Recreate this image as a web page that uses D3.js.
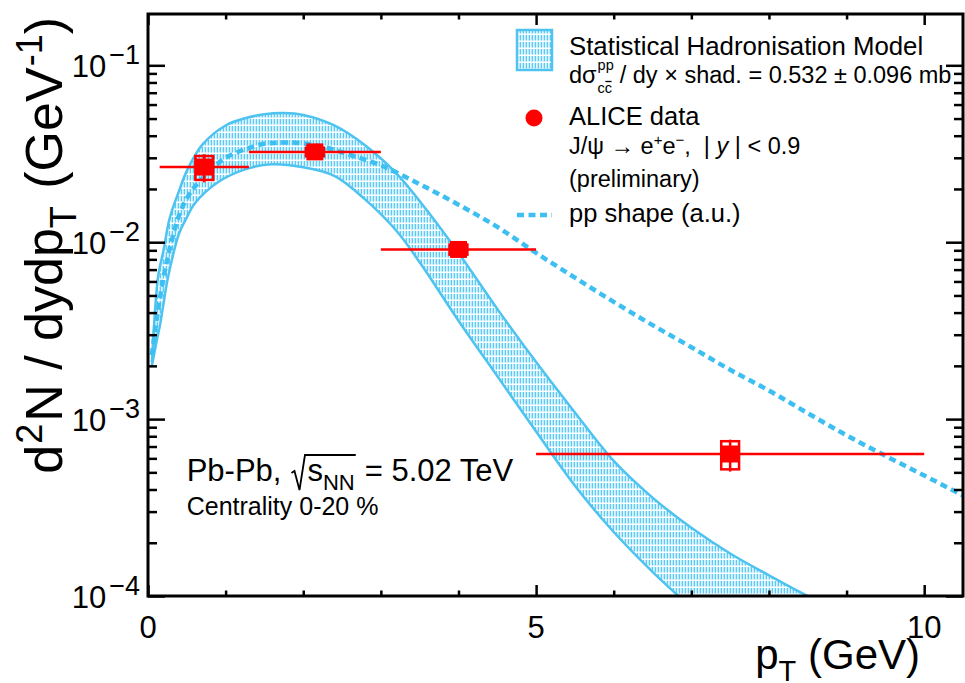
<!DOCTYPE html>
<html>
<head>
<meta charset="utf-8">
<script src="https://cdn.jsdelivr.net/npm/d3@7"></script>
<style>
  body { margin: 0; background: #fff; }
  svg { display: block; font-family: "Liberation Sans", Arial, Helvetica, sans-serif; }
</style>
</head>
<body>
<svg id="chart" width="965" height="683"></svg>
<script>
// ---- Statistical Hadronisation Model band (upper / lower edge) ----
const shmUpperPt  = [0.05, 0.08, 0.13, 0.2, 0.28, 0.4, 0.5, 0.7, 1.0, 1.25, 1.5, 1.75, 2.0, 2.4, 2.8, 3.2, 3.6, 4.0, 4.5, 5.0, 5.5, 6.0, 6.5, 7.0, 7.5, 8.0, 8.5, 8.8];
const shmUpperVal = [0.0021, 0.0035, 0.0064, 0.0090, 0.0137, 0.0195, 0.0253, 0.0356, 0.0457, 0.0502, 0.0529, 0.0537, 0.0524, 0.0457, 0.0352, 0.0245, 0.0150, 0.0087, 0.0042, 0.0021, 0.00109, 0.00058, 0.00036, 0.000243, 0.000174, 0.000131, 0.000100, 0.000087];
const shmLowerPt  = [0.05, 0.1, 0.16, 0.2, 0.26, 0.4, 0.5, 0.6, 0.9, 1.25, 1.6, 2.0, 2.4, 2.8, 3.2, 3.5, 4.0, 4.5, 5.0, 5.5, 6.0, 6.5, 7.0];
const shmLowerVal = [0.0020, 0.0026, 0.0035, 0.0045, 0.0064, 0.0112, 0.0138, 0.0165, 0.0218, 0.0258, 0.0276, 0.0265, 0.0237, 0.0174, 0.0116, 0.0077, 0.0036, 0.00175, 0.00085, 0.00042, 0.00023, 0.000137, 0.000086];

// ---- pp reference shape (arbitrary units) ----
const ppPt  = [0.05, 0.1, 0.2, 0.3, 0.4, 0.5, 0.6, 0.8, 1.0, 1.25, 1.5, 1.75, 2.0, 2.3, 2.6, 3.0, 3.5, 4.0, 4.5, 5.0, 5.5, 6.0, 6.5, 7.0, 7.5, 8.0, 8.5, 9.0, 9.5, 10.0, 10.5];
const ppVal = [0.0023, 0.0034, 0.0063, 0.0100, 0.0142, 0.0177, 0.0205, 0.0255, 0.0300, 0.0335, 0.0360, 0.0366, 0.0362, 0.0342, 0.0312, 0.0272, 0.0213, 0.0163, 0.0122, 0.0087, 0.0063, 0.0046, 0.0034, 0.00255, 0.0019, 0.00145, 0.00108, 0.00081, 0.00062, 0.00048, 0.00037];

// ---- ALICE J/psi data, Pb-Pb 0-20 % ----
const dataPt   = [0.725, 2.15, 4.0, 7.5];
const binLow   = [0.15, 1.3, 3.0, 5.0];
const binHigh  = [1.3, 3.0, 5.0, 10.0];
const dataVal  = [0.0266, 0.0324, 0.0091, 0.000635];
const statErr  = [0.0048, 0.0015, 0.0005, 0.00013];
const sysErr   = [0.0041, 0.0018, 0.0006, 0.000115];

// ---- axis ticks ----
const xMajor = [0, 5, 10];
const xTickLabels = ["0", "5", "10"];
const xMinor = [1, 2, 3, 4, 6, 7, 8, 9];
const yMajorExp = [-1, -2, -3, -4];

// ---------------------------------------------------------------
const svg = d3.select("#chart");
const frame = { left: 148, right: 963, top: 14, bottom: 596 };
const x = d3.scaleLinear().domain([0, 10.5]).range([frame.left, frame.right]);
const y = d3.scaleLog().domain([1e-4, 0.195]).range([frame.bottom, frame.top]);

const BAND_EDGE = "#4fc3f0";
const BAND_HATCH = "#5ccaf6";
const PP_COLOR = "#3dbff2";
const RED = "#ff0000";
const SYS_HALF_WIDTH = 0.115; // pT half-width of the systematic boxes
const NB = "\u00a0";

const defs = svg.append("defs");
const hatch = defs.append("pattern").attr("id", "hatch")
  .attr("patternUnits", "userSpaceOnUse").attr("width", 3).attr("height", 7);
hatch.append("rect").attr("width", 3).attr("height", 7).attr("fill", "#fff");
hatch.append("rect").attr("x", 0.6).attr("y", 0).attr("width", 1.6).attr("height", 5.5).attr("fill", BAND_HATCH);

defs.append("clipPath").attr("id", "plotClip").append("rect")
  .attr("x", frame.left).attr("y", frame.top)
  .attr("width", frame.right - frame.left).attr("height", frame.bottom - frame.top);

const plot = svg.append("g").attr("clip-path", "url(#plotClip)");

const curve = d3.line().x(d => x(d[0])).y(d => y(d[1])).curve(d3.curveCatmullRom.alpha(0.5));
const upPts = d3.zip(shmUpperPt, shmUpperVal);
const loPts = d3.zip(shmLowerPt, shmLowerVal);

// model band: upper edge forward, lower edge back
const bandD = curve(upPts) + "L" + curve(loPts.slice().reverse()).slice(1) + "Z";
plot.append("path").attr("d", bandD).attr("fill", "url(#hatch)").attr("stroke", "none");
plot.append("path").attr("d", curve(upPts)).attr("fill", "none").attr("stroke", BAND_EDGE).attr("stroke-width", 2.5);
plot.append("path").attr("d", curve(loPts)).attr("fill", "none").attr("stroke", BAND_EDGE).attr("stroke-width", 2.5);

// pp shape
plot.append("path").attr("d", curve(d3.zip(ppPt, ppVal)))
  .attr("fill", "none").attr("stroke", PP_COLOR).attr("stroke-width", 4.5)
  .attr("stroke-dasharray", "7,4.5");

// data points
const pts = dataPt.map((p, i) => ({ p, v: dataVal[i], lo: binLow[i], hi: binHigh[i], st: statErr[i], sy: sysErr[i] }));
const dg = plot.append("g");
dg.selectAll("line.xerr").data(pts).join("line").attr("class", "xerr")
  .attr("x1", d => x(d.lo)).attr("x2", d => x(d.hi))
  .attr("y1", d => y(d.v)).attr("y2", d => y(d.v))
  .attr("stroke", RED).attr("stroke-width", 2.5);
dg.selectAll("line.yerr").data(pts).join("line").attr("class", "yerr")
  .attr("x1", d => x(d.p)).attr("x2", d => x(d.p))
  .attr("y1", d => y(d.v + d.st)).attr("y2", d => y(d.v - d.st))
  .attr("stroke", RED).attr("stroke-width", 2.5);
dg.selectAll("rect.sys").data(pts).join("rect").attr("class", "sys")
  .attr("x", d => x(d.p - SYS_HALF_WIDTH)).attr("width", d => x(d.p + SYS_HALF_WIDTH) - x(d.p - SYS_HALF_WIDTH))
  .attr("y", d => y(d.v + d.sy)).attr("height", d => y(d.v - d.sy) - y(d.v + d.sy))
  .attr("fill", "none").attr("stroke", RED).attr("stroke-width", 2.5);
const MS = 17;
dg.selectAll("rect.mk").data(pts).join("rect").attr("class", "mk")
  .attr("x", d => x(d.p) - MS / 2).attr("y", d => y(d.v) - MS / 2)
  .attr("width", MS).attr("height", MS).attr("fill", RED);

// ---- frame and ticks ----
function tickAxis(gen, tx, ty, size) {
  const g = svg.append("g").attr("transform", `translate(${tx},${ty})`).call(gen.tickSize(size).tickSizeOuter(0).tickFormat(""));
  g.select(".domain").remove();
  g.selectAll(".tick line").attr("stroke", "#000").attr("stroke-width", 2.5);
  return g;
}
tickAxis(d3.axisBottom(x).tickValues(xMajor), 0, frame.bottom, -11);
tickAxis(d3.axisBottom(x).tickValues(xMinor), 0, frame.bottom, -5.5);
tickAxis(d3.axisTop(x).tickValues(xMajor), 0, frame.top, -11);
tickAxis(d3.axisTop(x).tickValues(xMinor), 0, frame.top, -5.5);

const yMajor = yMajorExp.map(e => Math.pow(10, e));
const yMinor = [];
yMajorExp.forEach(e => { for (let m = 2; m <= 9; m++) { const v = m * Math.pow(10, e); if (v < 0.195) yMinor.push(v); } });
tickAxis(d3.axisLeft(y).tickValues(yMajor), frame.left, 0, -17);
tickAxis(d3.axisLeft(y).tickValues(yMinor), frame.left, 0, -9);
tickAxis(d3.axisRight(y).tickValues(yMajor), frame.right, 0, -17);
tickAxis(d3.axisRight(y).tickValues(yMinor), frame.right, 0, -9);

svg.append("rect").attr("x", frame.left).attr("y", frame.top)
  .attr("width", frame.right - frame.left).attr("height", frame.bottom - frame.top)
  .attr("fill", "none").attr("stroke", "#000").attr("stroke-width", 3);

// ---- text helpers ----
function rich(parent, x0, y0, runs, size, anchor) {
  const t = parent.append("text").attr("x", x0).attr("y", y0)
    .attr("font-size", size).attr("text-anchor", anchor || "start").attr("fill", "#000");
  let shift = 0;
  runs.forEach(r => {
    const ts = t.append("tspan").text(r.t);
    if (r.size) ts.attr("font-size", r.size);
    const s = r.up || 0;
    if (s !== shift) ts.attr("dy", -(s - shift));
    shift = s;
    if (r.italic) ts.attr("font-style", "italic");
    if (r.dx) ts.attr("dx", r.dx);
  });
  return t;
}

// tick labels
svg.append("g").selectAll("text").data(xMajor).join("text")
  .attr("x", d => x(d)).attr("y", 638).attr("text-anchor", "middle")
  .attr("font-size", 31).text((d, i) => xTickLabels[i]);
yMajorExp.forEach(e => {
  rich(svg, 140, y(Math.pow(10, e)) + 12, [
    { t: "10" },
    { t: "\u2212" + Math.abs(e), size: 27, up: 13, dx: 3 }
  ], 31, "end");
});

// axis titles
rich(svg, 920, 669, [
  { t: "p" },
  { t: "T", size: 29, up: -12 },
  { t: NB + "(GeV)", up: 0 }
], 42, "end");
const yt = svg.append("g").attr("transform", "translate(62,17) rotate(-90)");
rich(yt, 0, 0, [
  { t: "d" },
  { t: "2", size: 36, up: 20, dx: 1 },
  { t: "N" + NB + "/" + NB + "dydp", up: 0, dx: 2 },
  { t: "T", size: 36, up: -14 },
  { t: NB + "(GeV", up: 0, dx: 3 },
  { t: "-1", size: 36, up: 20, dx: 1 },
  { t: ")", up: 0 }
], 52, "end");

// ---- legend ----
const lg = svg.append("g");
lg.append("rect").attr("x", 517).attr("y", 30).attr("width", 35).attr("height", 40)
  .attr("fill", "url(#hatch)").attr("stroke", BAND_EDGE).attr("stroke-width", 2.5);
rich(lg, 569, 55, [{ t: "Statistical Hadronisation Model" }], 25.8);

// d sigma^{pp}_{c cbar} / dy x shad. = ...
const L2 = 83, F2 = 23.5, FS = 14.5;
const t1 = rich(lg, 569, L2, [{ t: "d\u03c3" }], F2);
const w1 = t1.node().getComputedTextLength();
const xs = 569 + w1 + 1;
const tsup = rich(lg, xs, L2 - 13, [{ t: "pp" }], FS);
const tsub = rich(lg, xs, L2 + 10, [{ t: "cc" }], FS);
const wSup = tsup.node().getComputedTextLength();
const wSub = tsub.node().getComputedTextLength();
lg.append("line").attr("x1", xs + wSub / 2 + 0.5).attr("x2", xs + wSub - 0.5)
  .attr("y1", L2 - 1.5).attr("y2", L2 - 1.5).attr("stroke", "#000").attr("stroke-width", 1.3);
rich(lg, xs + Math.max(wSup, wSub) + 6, L2, [{ t: "/ dy \u00d7 shad. = 0.532 \u00b1 0.096 mb" }], F2);

lg.append("circle").attr("cx", 534).attr("cy", 118).attr("r", 8.5).attr("fill", RED);
rich(lg, 569, 125, [{ t: "ALICE data" }], 25.5);
rich(lg, 569, 154, [
  { t: "J/\u03c8" + NB + "\u2192" + NB + "e" },
  { t: "+", size: 15, up: 9 },
  { t: "e", up: 0 },
  { t: "\u2212", size: 15, up: 9 },
  { t: "," + NB + NB + "|" + NB, up: 0 },
  { t: "y", italic: true },
  { t: NB + "|" + NB + "<" + NB + "0.9" }
], F2);
rich(lg, 569, 186.5, [{ t: "(preliminary)" }], F2);

lg.append("line").attr("x1", 517).attr("x2", 552).attr("y1", 215).attr("y2", 215)
  .attr("stroke", PP_COLOR).attr("stroke-width", 4.5).attr("stroke-dasharray", "7,4.5");
rich(lg, 569, 222, [{ t: "pp shape (a.u.)" }], 25.5);

// ---- collision system label ----
const sysG = svg.append("g");
const base = 481, FP = 31;
const p1 = rich(sysG, 186.7, base, [{ t: "Pb-Pb," }], FP);
const xr = 186.7 + p1.node().getComputedTextLength() + 10;
const sT = rich(sysG, xr + 16, base, [{ t: "s" }], FP);
const ws = sT.node().getComputedTextLength();
const nT = rich(sysG, xr + 16 + ws, base + 9, [{ t: "NN" }], 22);
const wn = nT.node().getComputedTextLength();
const radEnd = xr + 16 + ws + wn + 1;
sysG.append("path")
  .attr("d", `M${xr},${base - 8} L${xr + 3},${base - 10} L${xr + 8},${base + 9} L${xr + 13.5},${base - 26} L${radEnd},${base - 26}`)
  .attr("fill", "none").attr("stroke", "#000").attr("stroke-width", 1.8);
rich(sysG, radEnd + 9, base, [{ t: "= 5.02 TeV" }], FP);
rich(sysG, 186.7, 515, [{ t: "Centrality 0-20 %" }], 25);
</script>
</body>
</html>
